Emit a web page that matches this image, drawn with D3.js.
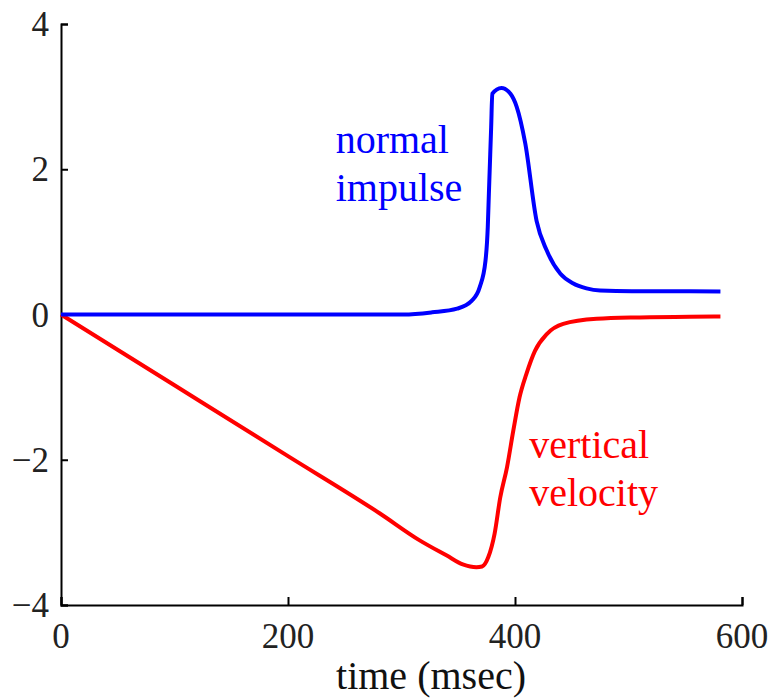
<!DOCTYPE html>
<html><head><meta charset="utf-8">
<script src="https://cdn.jsdelivr.net/npm/d3@7"></script>
</head><body style="margin:0">
<svg id="c" width="777" height="698" style="font-family:'Liberation Serif'"></svg>
<script>
const xTicks = [0, 200, 400, 600];
const yTicks = [-4, -2, 0, 2, 4];
const impulseT = [0, 100, 200, 302, 327, 349, 362, 369, 374, 376, 377, 379, 380, 388, 396, 401.5, 409, 419, 428, 440, 451, 463, 475, 503, 540, 581];
const impulseV = [0, 0, 0, 0.0, 0.03, 0.08, 0.19, 0.38, 0.74, 1.2, 1.67, 2.58, 3.04, 3.12, 3.04, 2.86, 2.36, 1.29, 0.88, 0.56, 0.43, 0.36, 0.33, 0.32, 0.32, 0.317];
const velocityT = [0, 100, 200, 281, 316, 340, 354, 366, 371, 376.5, 382, 387, 393, 398.5, 404, 410, 417.6, 428, 442.5, 472, 510, 554, 581];
const velocityV = [0, -0.975, -1.95, -2.74, -3.11, -3.32, -3.44, -3.48, -3.47, -3.34, -3.02, -2.52, -2.10, -1.60, -1.14, -0.82, -0.50, -0.27, -0.13, -0.06, -0.04, -0.03, -0.028];
const labels = [
  {lines: ["normal", "impulse"], t: 242, v: 2.22, color: "#0000ff"},
  {lines: ["vertical", "velocity"], t: 412.5, v: -1.98, color: "#ff0000"}
];

const svg = d3.select("#c");
const x = d3.scaleLinear().domain([0, 600]).range([61, 742]);
const y = d3.scaleLinear().domain([-4, 4]).range([605, 24]);

const gx = svg.append("g").attr("transform", `translate(0,${y(-4)})`)
  .call(d3.axisTop(x).tickValues(xTicks).tickSize(8).tickFormat(""));
const gy = svg.append("g").attr("transform", `translate(${x(0)},0)`)
  .call(d3.axisRight(y).tickValues(yTicks).tickSize(7).tickFormat(""));
[gx, gy].forEach(g => {
  g.select(".domain").attr("stroke", "#000").attr("stroke-width", 2);
  g.selectAll(".tick line").attr("stroke", "#000").attr("stroke-width", 2);
});

function txt(sel) { return sel.style("font-family", '"Liberation Serif"'); }

txt(svg.selectAll(".xl").data(xTicks).join("text"))
  .attr("x", d => x(d)).attr("y", 648)
  .attr("text-anchor", "middle").attr("font-size", 35)
  .attr("fill", "#222").text(d => d);
txt(svg.selectAll(".yl").data(yTicks).join("text"))
  .attr("x", 49).attr("y", d => y(d) + 12)
  .attr("text-anchor", "end").attr("font-size", 35)
  .attr("fill", "#222").text(d => d < 0 ? "\u2212" + Math.abs(d) : d);
txt(svg.append("text")).attr("x", 431).attr("y", 689).attr("text-anchor", "middle")
  .attr("font-size", 40).attr("fill", "#111").text("time (msec)");

const line = d3.line().x(d => x(d[0])).y(d => y(d[1])).curve(d3.curveMonotoneX);
svg.append("path").datum(velocityT.map((t, i) => [t, velocityV[i]]))
  .attr("d", line).attr("fill", "none").attr("stroke", "#ff0000").attr("stroke-width", 4);
svg.append("path").datum(impulseT.map((t, i) => [t, impulseV[i]]))
  .attr("d", line).attr("fill", "none").attr("stroke", "#0000ff").attr("stroke-width", 4);

labels.forEach(l => {
  l.lines.forEach((s, i) => txt(svg.append("text")).attr("font-size", 40).attr("fill", l.color)
    .attr("x", x(l.t)).attr("y", y(l.v) + i * 48).text(s));
});
</script>
</body></html>
